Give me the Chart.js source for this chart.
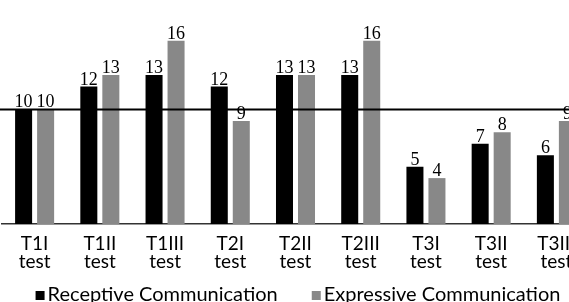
<!DOCTYPE html>
<html>
<head>
<meta charset="utf-8">
<script src="https://cdn.jsdelivr.net/npm/chart.js@4/dist/chart.umd.min.js"></script>
<style>
  html, body { margin: 0; padding: 0; background: #fff; overflow: hidden; }
</style>
</head>
<body>
<canvas id="commChart" width="589" height="302"></canvas>
<script>
var categories = ["T1I", "T1II", "T1III", "T2I", "T2II", "T2III", "T3I", "T3II", "T3III"];
var receptive = [10, 12, 13, 12, 13, 13, 5, 7, 6];
var expressive = [10, 13, 16, 9, 13, 16, 4, 8, 9];
var referenceValue = 10;

var xLabels = [];
for (var i in categories)
    xLabels.push([categories[i], "test"]);

// numbers above each bar
var valueLabels = {
    id: "valueLabels",
    afterDatasetsDraw: function (chart) {
        var ctx = chart.ctx;
        ctx.save();
        ctx.font = "18px 'Liberation Serif'";
        ctx.fillStyle = "#000";
        ctx.textAlign = "center";
        ctx.textBaseline = "alphabetic";
        chart.data.datasets.forEach(function (ds, d) {
            chart.getDatasetMeta(d).data.forEach(function (bar, k) {
                ctx.fillText(ds.data[k], bar.x, bar.y - 2);
            });
        });
        ctx.restore();
    }
};

// black line at the reference value
var refLine = {
    id: "refLine",
    afterDatasetsDraw: function (chart) {
        var ctx = chart.ctx;
        var y = chart.scales.y.getPixelForValue(referenceValue);
        ctx.save();
        ctx.strokeStyle = "#000";
        ctx.lineWidth = 2;
        ctx.beginPath();
        ctx.moveTo(0, y);
        ctx.lineTo(chart.width, y);
        ctx.stroke();
        ctx.restore();
    }
};

// legend drawn by hand: small square, tight gap, wide gap between items
var bottomLegend = {
    id: "bottomLegend",
    afterDraw: function (chart) {
        var ctx = chart.ctx;
        var box = 9, boxGap = 3, itemGap = 34;
        var baseline = 301;
        ctx.save();
        ctx.font = "20px Lato";
        ctx.textBaseline = "alphabetic";
        ctx.textAlign = "left";
        var items = chart.data.datasets;
        var total = 0;
        items.forEach(function (ds, d) {
            total += box + boxGap + ctx.measureText(ds.label).width;
            if (d > 0) total += itemGap;
        });
        var x = 298 - total / 2;
        items.forEach(function (ds) {
            ctx.fillStyle = ds.backgroundColor;
            ctx.fillRect(x, baseline - 10, box, box);
            x += box + boxGap;
            ctx.fillStyle = "#000";
            ctx.fillText(ds.label, x, baseline);
            x += ctx.measureText(ds.label).width + itemGap;
        });
        ctx.restore();
    }
};

chart = new Chart("commChart", {
    type: "bar",
    data: {
        labels: xLabels,
        datasets: [{
            label: "Receptive Communication",
            backgroundColor: "#000",
            data: receptive
        }, {
            label: "Expressive Communication",
            backgroundColor: "#888",
            data: expressive
        }]
    },
    options: {
        responsive: false,
        animation: false,
        layout: { padding: { left: 2, right: 0, top: 0, bottom: 23 } },
        scales: {
            x: {
                grid: { display: false },
                border: { color: "#333", width: 1.5 },
                ticks: {
                    color: "#000",
                    font: { family: "Lato", size: 19, lineHeight: 0.95 },
                    padding: 3,
                    maxRotation: 0,
                    autoSkip: false
                },
                afterFit: function (scale) {
                    scale.height += 5;
                }
            },
            y: {
                display: false,
                min: 0,
                max: 19.56
            }
        },
        datasets: {
            bar: { categoryPercentage: 0.675, barPercentage: 0.773 }
        },
        plugins: {
            legend: { display: false },
            tooltip: { enabled: false }
        }
    },
    plugins: [valueLabels, refLine, bottomLegend]
});
</script>
</body>
</html>
